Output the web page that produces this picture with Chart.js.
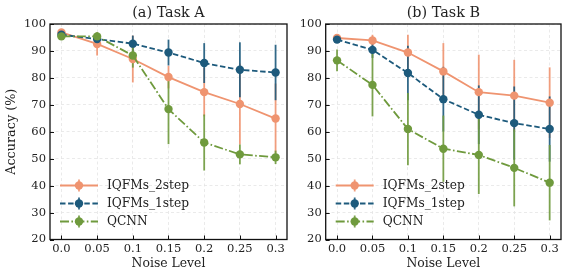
<!DOCTYPE html>
<html>
<head>
    <title>Accuracy vs Noise Level</title>
    <style>
        body {
            margin: 0;
            padding: 0;
            background: #ffffff;
            width: 569px;
            height: 278px;
            overflow: hidden;
            position: relative;
        }
        canvas {
            position: absolute;
            top: 0;
        }
        #chartA { left: 0; }
        #chartB { left: 295px; }
    </style>
    <script src="https://cdn.jsdelivr.net/npm/chart.js"></script>
</head>
<body>
    <canvas id="chartA" width="295" height="278"></canvas>
    <canvas id="chartB" width="274" height="278"></canvas>
    <script>
        // x positions and their printed labels
        const noise = [0.0, 0.05, 0.1, 0.15, 0.2, 0.25, 0.3];
        const noiseLabels = ['0.0', '0.05', '0.1', '0.15', '0.2', '0.25', '0.3'];
        const yTicks = [20, 30, 40, 50, 60, 70, 80, 90, 100];
        const seriesNames = ['IQFMs_2step', 'IQFMs_1step', 'QCNN'];

        // (a) Task A
        const a2step = [96.9, 92.6, 87.0, 80.3, 74.7, 70.3, 64.9];
        const a2stepErr = [0.6, 4.3, 8.7, 4.2, 9.0, 15.0, 13.0];
        const a1step = [96.0, 94.4, 92.7, 89.4, 85.5, 83.0, 82.0];
        const a1stepErr = [0.8, 1.5, 3.0, 4.8, 7.4, 10.2, 10.3];
        const aQcnn = [95.4, 95.4, 88.3, 68.4, 56.0, 51.6, 50.5];
        const aQcnnErr = [1.0, 1.5, 4.5, 13.0, 10.4, 3.7, 2.5];

        // (b) Task B
        const b2step = [94.8, 93.9, 89.4, 82.4, 74.7, 73.4, 70.8];
        const b2stepErr = [0.6, 2.1, 6.6, 10.5, 13.9, 13.3, 13.1];
        const b1step = [94.2, 90.4, 81.8, 72.1, 66.3, 63.2, 61.0];
        const b1stepErr = [0.8, 3.0, 10.1, 12.0, 10.9, 13.6, 12.1];
        const bQcnn = [86.5, 77.4, 61.0, 53.7, 51.4, 46.6, 41.1];
        const bQcnnErr = [4.0, 11.7, 13.4, 12.3, 14.5, 14.3, 14.0];

        const colors = ['#ef9470', '#1d5a7c', '#6f9a3d'];
        const barColors = ['rgba(239,148,112,0.9)', 'rgba(29,90,124,0.9)', 'rgba(111,154,61,0.9)'];
        const dashes = [[], [5.5, 2.6], [9, 2.4, 1.6, 2.4]];
        const FONT = "'DejaVu Serif', serif";

        // error bars, title, frame, inward ticks and legend
        const extras = {
            id: 'extras',
            beforeDatasetsDraw(chart) {
                // all bars go under all lines and markers
                const y = chart.scales.y;
                const ctx = chart.ctx;
                ctx.save();
                ctx.lineWidth = 1.8;
                chart.data.datasets.forEach((ds, k) => {
                    const meta = chart.getDatasetMeta(k);
                    ctx.strokeStyle = ds.barColor;
                    meta.data.forEach((pt, i) => {
                        const v = ds.data[i].y;
                        ctx.beginPath();
                        ctx.moveTo(pt.x, y.getPixelForValue(v - ds.err[i]));
                        ctx.lineTo(pt.x, y.getPixelForValue(v + ds.err[i]));
                        ctx.stroke();
                    });
                });
                ctx.restore();
            },
            afterDatasetsDraw(chart) {
                const ctx = chart.ctx;
                const a = chart.chartArea;
                const x = chart.scales.x;
                const y = chart.scales.y;
                ctx.save();
                ctx.strokeStyle = '#111';
                ctx.lineWidth = 1;
                yTicks.forEach(t => {
                    const py = Math.round(y.getPixelForValue(t)) + 0.5;
                    ctx.beginPath();
                    ctx.moveTo(a.left, py);
                    ctx.lineTo(a.left + 4, py);
                    ctx.stroke();
                });
                noise.forEach(t => {
                    const px = Math.round(x.getPixelForValue(t)) + 0.5;
                    ctx.beginPath();
                    ctx.moveTo(px, a.bottom);
                    ctx.lineTo(px, a.bottom - 4);
                    ctx.stroke();
                });
                ctx.lineWidth = 1.3;
                ctx.strokeRect(a.left, a.top, a.right - a.left, a.bottom - a.top);
                ctx.restore();
            },
            afterDraw(chart, args, opts) {
                const ctx = chart.ctx;
                const a = chart.chartArea;
                ctx.save();
                ctx.fillStyle = '#222';
                ctx.font = '14.4px ' + FONT;
                ctx.textAlign = 'center';
                ctx.textBaseline = 'middle';
                ctx.fillText(opts.title, (a.left + a.right) / 2, 13);

                // legend, lower left inside the axes
                ctx.font = '12.2px ' + FONT;
                ctx.textAlign = 'left';
                chart.data.datasets.forEach((ds, i) => {
                    const ry = a.bottom - 54 + i * 18;
                    const x0 = a.left + 10;
                    ctx.strokeStyle = ds.borderColor;
                    ctx.lineWidth = 1.8;
                    ctx.setLineDash(ds.borderDash);
                    ctx.beginPath();
                    ctx.moveTo(x0, ry);
                    ctx.lineTo(x0 + 38, ry);
                    ctx.stroke();
                    ctx.setLineDash([]);
                    ctx.strokeStyle = ds.barColor;
                    ctx.beginPath();
                    ctx.moveTo(x0 + 19, ry - 6);
                    ctx.lineTo(x0 + 19, ry + 6);
                    ctx.stroke();
                    ctx.fillStyle = ds.borderColor;
                    ctx.beginPath();
                    ctx.arc(x0 + 19, ry, 4.2, 0, Math.PI * 2);
                    ctx.fill();
                    ctx.fillStyle = '#222';
                    ctx.fillText(ds.label, x0 + 47, ry);
                });
                ctx.restore();
            }
        };

        function buildChart(canvasId, title, values, errs, yWidth, showYTitle) {
            const ctx = document.getElementById(canvasId).getContext('2d');
            const datasets = values.map((vals, i) => ({
                label: seriesNames[i],
                data: noise.map((x, j) => ({ x: x, y: vals[j] })),
                err: errs[i],
                barColor: barColors[i],
                borderColor: colors[i],
                backgroundColor: colors[i],
                borderDash: dashes[i],
                borderWidth: 1.8,
                pointRadius: 4.2,
                pointBorderWidth: 0,
                pointBackgroundColor: colors[i],
                tension: 0,
                fill: false,
                order: 3 - i
            }));
            return new Chart(ctx, {
                type: 'line',
                data: { datasets: datasets },
                options: {
                    responsive: false,
                    animation: false,
                    devicePixelRatio: 1,
                    layout: { padding: { top: 24, right: 8, bottom: 0, left: 0 } },
                    plugins: {
                        legend: { display: false },
                        tooltip: { enabled: false },
                        extras: { title: title }
                    },
                    scales: {
                        x: {
                            type: 'linear',
                            min: -0.016,
                            max: 0.316,
                            afterBuildTicks: s => { s.ticks = noise.map(v => ({ value: v })); },
                            afterFit: s => { s.height = 38.5; },
                            ticks: {
                                callback: (v, i) => noiseLabels[i],
                                autoSkip: false,
                                maxRotation: 0,
                                padding: 2.5,
                                color: '#222',
                                font: { family: FONT, size: 11.5 }
                            },
                            grid: { color: '#e4e4e4', lineWidth: 0.8, drawTicks: false },
                            border: { display: false, dash: [3, 2.5] },
                            title: {
                                display: true,
                                text: 'Noise Level',
                                color: '#222',
                                font: { family: FONT, size: 12.4 },
                                padding: { top: 0, bottom: 7 }
                            }
                        },
                        y: {
                            min: 20,
                            max: 100,
                            afterFit: s => { s.width = yWidth; },
                            ticks: {
                                stepSize: 10,
                                padding: 4,
                                color: '#222',
                                font: { family: FONT, size: 11.5 }
                            },
                            grid: { color: '#e4e4e4', lineWidth: 0.8, drawTicks: false },
                            border: { display: false, dash: [3, 2.5] },
                            title: {
                                display: showYTitle,
                                text: 'Accuracy (%)',
                                color: '#222',
                                font: { family: FONT, size: 12.8 },
                                padding: { top: 4, bottom: 0 }
                            }
                        }
                    }
                },
                plugins: [extras]
            });
        }

        buildChart('chartA', '(a) Task A', [a2step, a1step, aQcnn], [a2stepErr, a1stepErr, aQcnnErr], 50, true);
        buildChart('chartB', '(b) Task B', [b2step, b1step, bQcnn], [b2stepErr, b1stepErr, bQcnnErr], 30.7, false);
    </script>
</body>
</html>
